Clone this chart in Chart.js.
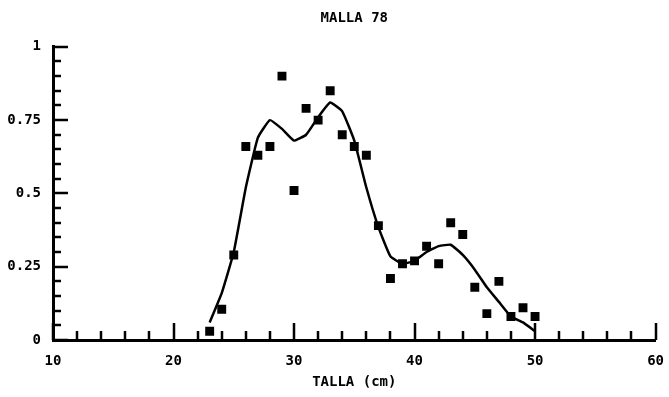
<!DOCTYPE html>
<html>
<head>
<meta charset="utf-8">
<script src="https://cdn.jsdelivr.net/npm/chart.js@4"></script>
<style>
  html, body { margin: 0; padding: 0; background: #fff; }
  #wrap { width: 669px; height: 397px; }
</style>
</head>
<body>
<div id="wrap"><canvas id="grafico"></canvas></div>
<script>
// Talla (cm) de cada clase
const tallas = [23, 24, 25, 26, 27, 28, 29, 30, 31, 32, 33, 34, 35, 36,
                37, 38, 39, 40, 41, 42, 43, 44, 45, 46, 47, 48, 49, 50];
// Proporcion observada por clase
const observado = [0.03, 0.105, 0.29, 0.66, 0.63, 0.66, 0.90, 0.51, 0.79, 0.75, 0.85, 0.70, 0.66, 0.63,
                   0.39, 0.21, 0.26, 0.27, 0.32, 0.26, 0.40, 0.36, 0.18, 0.09, 0.20, 0.08, 0.11, 0.08];
// Curva ajustada
const ajuste = [0.06, 0.16, 0.30, 0.52, 0.69, 0.75, 0.72, 0.68, 0.70, 0.76, 0.81, 0.78, 0.68, 0.52,
                0.385, 0.285, 0.26, 0.27, 0.30, 0.32, 0.325, 0.29, 0.24, 0.18, 0.13, 0.08, 0.06, 0.03];

const ejeX = { min: 10, max: 60, paso: 2, mayor: 10 };
const ejeY = { min: 0, max: 1, paso: 0.05, mayor: 0.25 };

const fuente = { family: "'DejaVu Sans Mono', monospace", size: 14, weight: 'bold' };

function esMayor(v, cada) {
  const r = v / cada;
  return Math.abs(r - Math.round(r)) < 1e-6;
}

// marcas de escala hacia dentro del grafico
const marcasInternas = {
  id: 'marcasInternas',
  afterDraw(chart) {
    const ctx = chart.ctx;
    const sx = chart.scales.x, sy = chart.scales.y;
    ctx.save();
    ctx.strokeStyle = '#000';
    ctx.lineWidth = 2.5;
    ctx.beginPath();
    for (let v = ejeX.min; v <= ejeX.max + 1e-6; v += ejeX.paso) {
      const px = Math.round(sx.getPixelForValue(v));
      const largo = esMayor(v, ejeX.mayor) ? 17 : 9;
      ctx.moveTo(px, sy.bottom);
      ctx.lineTo(px, sy.bottom - largo);
    }
    for (let v = ejeY.min; v <= ejeY.max + 1e-6; v += ejeY.paso) {
      const py = Math.round(sy.getPixelForValue(v));
      const largo = esMayor(v, ejeY.mayor) ? 15 : 8;
      ctx.moveTo(sx.left, py);
      ctx.lineTo(sx.left + largo, py);
    }
    ctx.stroke();
    ctx.restore();
  }
};

const ctx = document.getElementById('grafico').getContext('2d');
new Chart(ctx, {
  type: 'scatter',
  data: {
    datasets: [{
      label: 'Ajuste',
      data: tallas.map((t, i) => ({ x: t, y: ajuste[i] })),
      showLine: true,
      borderColor: '#000',
      borderWidth: 2.5,
      pointRadius: 0,
      tension: 0.12,
      order: 2
    }, {
      label: 'Observado',
      data: tallas.map((t, i) => ({ x: t, y: observado[i] })),
      pointStyle: 'rect',
      pointRadius: 6.3,
      backgroundColor: '#000',
      borderColor: '#000',
      borderWidth: 0,
      order: 1
    }]
  },
  options: {
    responsive: true,
    maintainAspectRatio: false,
    animation: false,
    layout: { padding: { left: 0, right: 4, top: 0, bottom: 0 } },
    plugins: {
      legend: { display: false },
      tooltip: { enabled: false },
      title: {
        display: true,
        fullSize: false,
        text: 'MALLA 78',
        color: '#000',
        font: fuente,
        padding: { top: 10, bottom: 20 }
      }
    },
    scales: {
      x: {
        type: 'linear',
        min: ejeX.min,
        max: ejeX.max,
        grid: { display: false },
        border: { display: true, color: '#000', width: 3 },
        ticks: {
          stepSize: ejeX.paso,
          autoSkip: false,
          maxRotation: 0,
          color: '#000',
          font: fuente,
          padding: 5,
          callback: v => esMayor(v, ejeX.mayor) ? String(v) : ''
        },
        title: {
          display: true,
          text: 'TALLA (cm)',
          color: '#000',
          font: fuente,
          padding: { top: 4, bottom: 6 }
        },
        afterFit(scale) { scale.height = 57; }
      },
      y: {
        type: 'linear',
        min: ejeY.min,
        max: ejeY.max,
        grid: { display: false },
        border: { display: true, color: '#000', width: 3 },
        ticks: {
          stepSize: ejeY.paso,
          autoSkip: false,
          color: '#000',
          font: fuente,
          padding: 4,
          callback: v => esMayor(v, ejeY.mayor) ? String(Math.round(v * 100) / 100) : ''
        },
        afterFit(scale) { scale.width = 53; }
      }
    }
  },
  plugins: [marcasInternas]
});
</script>
</body>
</html>
